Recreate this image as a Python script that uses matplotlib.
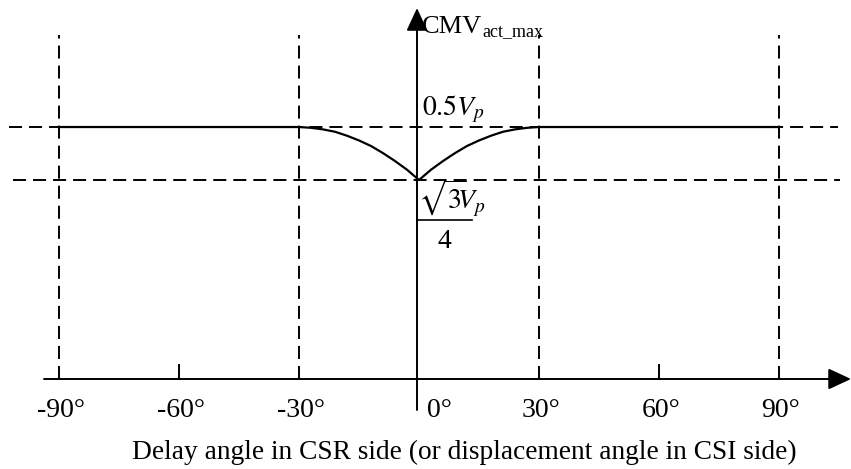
import matplotlib.pyplot as plt

# CMV_act_max (in units of Vp) against delay / displacement angle (deg)
angle = [-90, -30, -27, -24, -21, -18, -15, -12, -9, -6, -3, 0,
         3, 6, 9, 12, 15, 18, 21, 24, 27, 30, 90]
cmv = [0.500, 0.500, 0.499, 0.497, 0.494, 0.489, 0.483, 0.476, 0.467, 0.457, 0.446, 0.433,
       0.446, 0.457, 0.467, 0.476, 0.483, 0.489, 0.494, 0.497, 0.499, 0.500, 0.500]

ticks = [-90, -60, -30, 30, 60, 90]
tick_labels = ['-90°', '-60°', '-30°', '30°', '60°', '90°']
guide_angles = [-90, -30, 30, 90]
v_high = 0.5
v_low = 0.433

plt.rcParams['font.family'] = ['Liberation Serif', 'DejaVu Serif']
plt.rcParams['mathtext.fontset'] = 'stix'

fig = plt.figure(figsize=(8.51, 4.69), dpi=100)
ax = fig.add_axes([0, 0, 1, 1])
ax.set_xlim(-104.75, 108.0)
ax.set_ylim(0.0676, 0.6606)
ax.axis('off')

base = 0.1814   # where the angle axis sits
dash = (0, (6.7, 3.6))

# dashed guides
for a in guide_angles:
    ax.plot([a, a], [base, 0.6163], color='black', lw=1.4, ls=dash)
ax.plot([-102.5, 104.75], [v_high, v_high], color='black', lw=1.4, ls=dash)
ax.plot([-101.5, 105.25], [v_low, v_low], color='black', lw=1.4, ls=dash)

# curve
ax.plot(angle, cmv, color='black', lw=1.6)

# axes with arrows
arrow = dict(arrowstyle='-|>,head_length=14,head_width=6.5', color='black',
             lw=1.4, shrinkA=0, shrinkB=0, mutation_scale=1)
ax.annotate('', xy=(108.0, base), xytext=(-93.75, base), arrowprops=arrow)
ax.annotate('', xy=(-0.5, 0.6504), xytext=(-0.5, 0.1422), arrowprops=arrow)

# small ticks
for t in (-60, 60):
    ax.plot([t, t], [base, 0.1991], color='black', lw=1.4)

for t, lab in zip(ticks, tick_labels):
    ax.text(t + 0.5, 0.1334, lab, ha='center', va='baseline', fontsize=20)
ax.text(5, 0.1334, '0°', ha='center', va='baseline', fontsize=20)

ax.text(11.25, 0.0803, 'Delay angle in CSR side (or displacement angle in CSI side)',
        ha='center', va='baseline', fontsize=19.7)

# y axis name
ax.text(0.75, 0.6188, 'CMV', ha='left', va='baseline', fontsize=19)
ax.text(15.75, 0.6150, 'act_max', ha='left', va='baseline', fontsize=13)

# level labels
ax.text(0.75, 0.5152, r'$0.5V_p$', ha='left', va='baseline', fontsize=20)
ax.text(-0.25, 0.3976, r'$\sqrt{3}\!\!V_p$', ha='left', va='baseline', fontsize=20)
ax.plot([-0.5, 13.25], [0.3824, 0.3824], color='black', lw=1.2)
ax.text(6.25, 0.347, '4', ha='center', va='baseline', fontsize=20)

fig.savefig('out.png', dpi=100)
